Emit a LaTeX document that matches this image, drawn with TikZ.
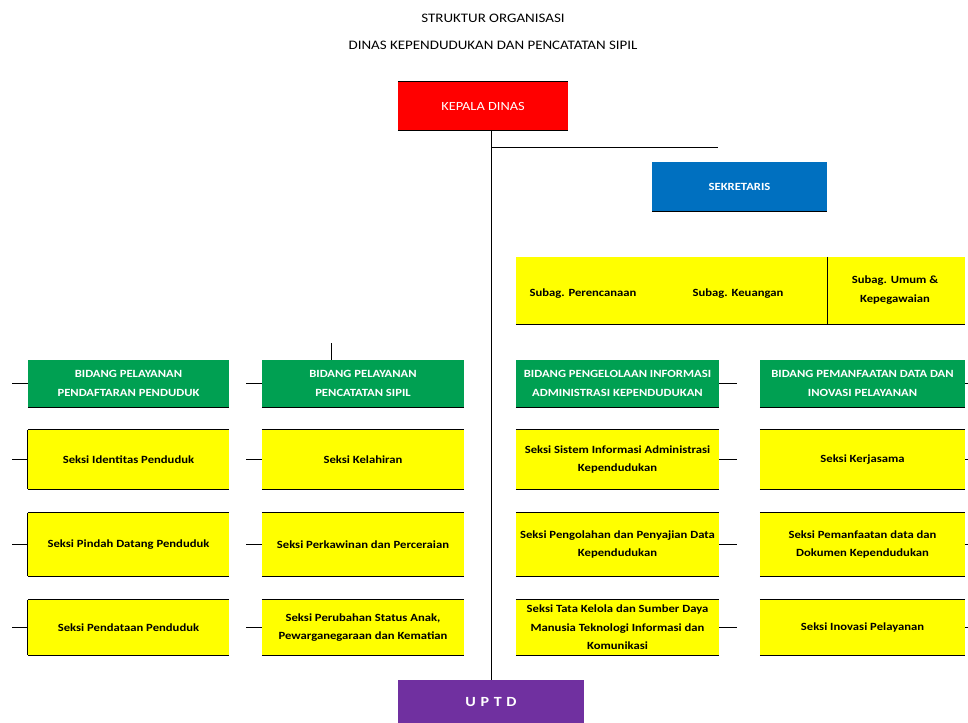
\documentclass[tikz,border=0pt]{standalone}
\usepackage{fontspec}
\setmainfont[FakeStretch=1.15]{Carlito}
\usetikzlibrary{positioning}
\definecolor{kepred}{RGB}{255,0,0}
\definecolor{sekblue}{RGB}{0,112,192}
\definecolor{bidgreen}{RGB}{0,160,82}
\definecolor{seksiyel}{RGB}{255,255,0}
\definecolor{uptdpurple}{RGB}{112,48,160}
\tikzstyle{unit} = [inner sep=0pt, align=center, font=\bfseries\fontsize{11}{18.5}\selectfont]
\tikzstyle{bidang} = [unit, fill=bidgreen, text=white, minimum height=47pt]
\tikzstyle{seksi} = [unit, fill=seksiyel, text=black]
\tikzstyle{stub} = [thick]

\begin{document}
\begin{tikzpicture}[x=1pt,y=-1pt]
\useasboundingbox (0,0) rectangle (968,722);
% judul
\node[font=\fontsize{13}{15}\selectfont] (judul1) at (493,18) {STRUKTUR ORGANISASI};
\node[font=\fontsize{13}{15}\selectfont] (judul2) at (493,45) {DINAS KEPENDUDUKAN DAN PENCATATAN SIPIL};
% pimpinan
\node[unit, font=\fontsize{12.5}{15}\selectfont, fill=kepred, text=white, minimum width=170pt, minimum height=48pt] (kepala) at (483,106) {KEPALA DINAS};
\node[unit, fill=sekblue, text=white, minimum width=175pt, minimum height=49pt] (sekretaris) at (739.5,186.5) {SEKRETARIS};
\node[seksi, minimum width=449pt, minimum height=67pt] (subag) at (740.5,290.5) {};
\node[seksi] (perencanaan) at (583,294) {Subag. Perencanaan};
\node[seksi] (keuangan) at (738,294) {Subag. Keuangan};
\node[seksi] (umum) at (895,290) {Subag. Umum \&\\Kepegawaian};
\node[unit, font=\bfseries\fontsize{14}{16}\selectfont, fill=uptdpurple, text=white, minimum width=186pt, minimum height=44pt] (uptd) at (491,702) {U\,\,P\,\,T\,\,D};
% kolom 1
\node[bidang, minimum width=201pt] (bidA) at (128.5,383.5) {BIDANG PELAYANAN\\PENDAFTARAN PENDUDUK};
\node[seksi, minimum width=201pt, minimum height=59pt] (sekA1) at (128.5,459.5) {Seksi Identitas Penduduk};
\node[seksi, minimum width=201pt, minimum height=63pt] (sekA2) at (128.5,544.5) {Seksi Pindah Datang Penduduk};
\node[seksi, minimum width=201pt, minimum height=55pt] (sekA3) at (128.5,627.5) {Seksi Pendataan Penduduk};
% kolom 2
\node[bidang, minimum width=202pt] (bidB) at (363,383.5) {BIDANG PELAYANAN\\PENCATATAN SIPIL};
\node[seksi, minimum width=202pt, minimum height=59pt] (sekB1) at (363,459.5) {Seksi Kelahiran};
\node[seksi, minimum width=202pt, minimum height=63pt] (sekB2) at (363,544.5) {Seksi Perkawinan dan Perceraian};
\node[seksi, minimum width=202pt, minimum height=55pt] (sekB3) at (363,627.5) {Seksi Perubahan Status Anak,\\Pewarganegaraan dan Kematian};
% kolom 3
\node[bidang, minimum width=203pt] (bidC) at (617.5,383.5) {BIDANG PENGELOLAAN INFORMASI\\ADMINISTRASI KEPENDUDUKAN};
\node[seksi, minimum width=203pt, minimum height=59pt] (sekC1) at (617.5,459.5) {Seksi Sistem Informasi Administrasi\\Kependudukan};
\node[seksi, minimum width=203pt, minimum height=63pt] (sekC2) at (617.5,544.5) {Seksi Pengolahan dan Penyajian Data\\Kependudukan};
\node[seksi, minimum width=203pt, minimum height=55pt] (sekC3) at (617.5,627.5) {Seksi Tata Kelola dan Sumber Daya\\Manusia Teknologi Informasi dan\\Komunikasi};
% kolom 4
\node[bidang, minimum width=205pt] (bidD) at (862.5,383.5) {BIDANG PEMANFAATAN DATA DAN\\INOVASI PELAYANAN};
\node[seksi, minimum width=205pt, minimum height=59pt] (sekD1) at (862.5,459.5) {Seksi Kerjasama};
\node[seksi, minimum width=205pt, minimum height=63pt] (sekD2) at (862.5,544.5) {Seksi Pemanfaatan data dan\\Dokumen Kependudukan};
\node[seksi, minimum width=205pt, minimum height=55pt] (sekD3) at (862.5,627.5) {Seksi Inovasi Pelayanan};
% garis tepi
\foreach \b in {kepala,sekA1,sekA2,sekA3,sekB1,sekB2,sekB3,sekC1,sekC2,sekC3,sekD1,sekD2,sekD3}{
	\draw[thick] (\b.north west) -- (\b.north east);
	\draw[thick] (\b.south west) -- (\b.south east);
}
\foreach \b in {bidA,bidB,bidC,bidD,subag,sekretaris}{
	\draw[thick] (\b.south west) -- (\b.south east);
}
\foreach \b in {sekA1,sekA2,sekA3}{
	\draw[thick] (\b.north west) -- (\b.south west);
}
\draw[thick] (827,0 |- subag.north) -- (827,0 |- subag.south);
% garis komando
\coordinate (sekkiri) at (718,147);
\draw[thick] (uptd.north) -- (uptd.north |- kepala.south);
\draw[thick] (uptd.north |- sekkiri) -- (sekkiri);
\coordinate (atasB) at (331,343);
\draw[thick] (atasB) -- (atasB |- bidB.north);
\foreach \b in {bidA,sekA1,sekA2,sekA3,bidB,sekB1,sekB2,sekB3}{
	\draw[stub] (\b.west) -- ++(-16,0);
}
\foreach \b in {bidC,sekC1,sekC2,sekC3,bidD,sekD1,sekD2,sekD3}{
	\draw[stub] (\b.east) -- ++(18,0);
}
\end{tikzpicture}
\end{document}
